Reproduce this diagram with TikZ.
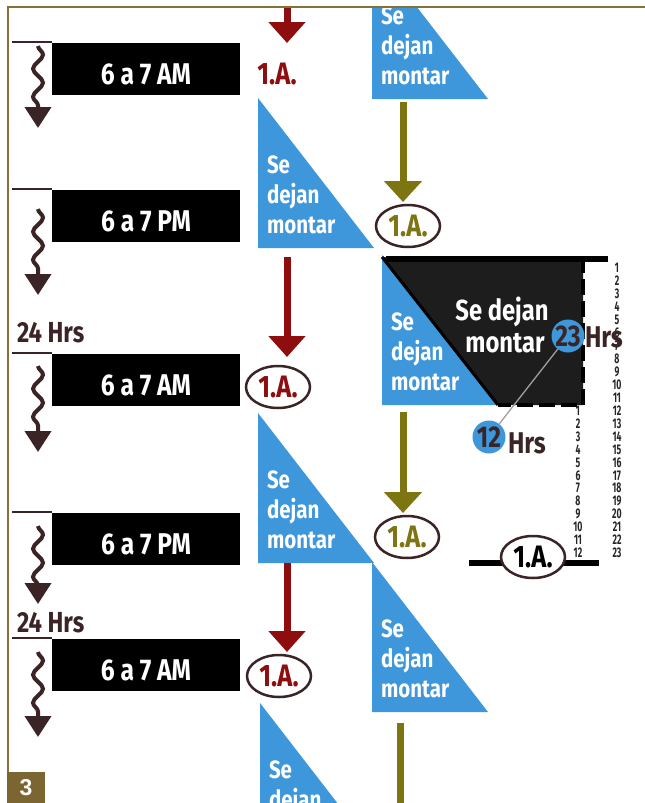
\documentclass[tikz,border=0pt]{standalone}
\usepackage{fontspec}
\setmainfont{Fira Sans}
\newfontfamily\cf{Fira Sans}[FakeStretch=0.82]
\newfontfamily\nf{Fira Sans}[FakeStretch=0.62]
\newfontfamily\af{Liberation Sans}
\usetikzlibrary{arrows.meta,decorations.pathmorphing,shapes.geometric}
\definecolor{tblue}{HTML}{3D97DA}
\definecolor{dred}{HTML}{8E0D0F}
\definecolor{oliv}{HTML}{7D7412}
\definecolor{dbrown}{HTML}{3B2426}
\definecolor{framec}{HTML}{85703A}
\definecolor{boxc}{HTML}{7B6531}
\definecolor{blackreg}{HTML}{1D1D1D}
\tikzset{
  every node/.style={inner sep=0pt, outer sep=0pt},
  timebox/.style={fill=black, minimum width=188pt, minimum height=52pt, text=white,
    font=\cf\bfseries\fontsize{30}{30}\selectfont, text height=31pt, text depth=0pt},
  tickline/.style={draw=dbrown, line width=1.8pt},
  wavy/.style={draw=dbrown, line width=4pt, decorate,
    decoration={snake, amplitude=5pt, segment length=28pt, post length=18pt},
    -{Triangle[width=26pt,length=21pt]}},
  hrs/.style={text=dbrown, font=\cf\bfseries\fontsize{29}{29}\selectfont, anchor=base west},
  redarr/.style={draw=dred, line width=7pt, -{Triangle[width=36pt,length=21pt]}},
  olarr/.style={draw=oliv, line width=7pt, -{Triangle[width=37pt,length=21pt]}},
  olline/.style={draw=oliv, line width=7pt},
  tritxt/.style={text=white, font=\cf\bfseries\fontsize{25}{25}\selectfont, anchor=base west},
  bigtxt/.style={text=white, font=\cf\bfseries\fontsize{29}{29}\selectfont, anchor=base},
  iaell/.style={ellipse, draw=dbrown, line width=2.5pt, fill=white, minimum width=64pt,
    minimum height=42pt, font=\cf\bfseries\fontsize{31}{31}\selectfont, text height=21pt, text depth=0pt},
  iaplain/.style={font=\cf\bfseries\fontsize{31}{31}\selectfont, text height=21pt, text depth=0pt},
  hcirc/.style={circle, fill=tblue, minimum size=33pt, text=dbrown,
    font=\cf\bfseries\fontsize{30}{30}\selectfont, text height=20pt, text depth=0pt},
  hrsb/.style={text=dbrown, font=\cf\bfseries\fontsize{30}{30}\selectfont, anchor=base west},
  numtxt/.style={text=black!85, font=\nf\bfseries\fontsize{14}{14}\selectfont, text height=9.6pt, text depth=0pt},
  dashborder/.style={draw=black, line width=4.5pt, dash pattern=on 16pt off 6pt},
}
\newcommand\bluetri[3]{%
  \fill[tblue] (#2,#3) coordinate (#1) -- (#2,#3-150) -- (#2+116,#3) -- cycle;
  \node[tritxt] (#1a) at (#2+9,#3-75) {Se};
  \node[tritxt] (#1b) at (#2+9,#3-45) {dejan};
  \node[tritxt] (#1c) at (#2+9,#3-15) {montar};
}
\begin{document}
\begin{tikzpicture}[x=1pt,y=-1pt]
\useasboundingbox (0,0) rectangle (645,803);
\fill[white] (0,0) rectangle (645,803);
\begin{scope}
\clip (9,8) rectangle (645,803);
% ---------- left column ----------
\foreach \n/\t/\c/\ws/\we/\lab in {1/42/69/46/128/6 a 7 AM, 2/189/216/209/295/6 a 7 PM, 3/353/380/366/452/6 a 7 AM, 4/512/539/526/604/6 a 7 PM, 5/638/665/652/737/6 a 7 AM}{
  \coordinate (tl\n) at (12,\t);
  \coordinate (tr\n) at (52,\t);
  \draw[tickline] (tl\n) -- (tr\n);
  \node[timebox] (box\n) at (146,\c) {\lab};
  \coordinate (ws\n) at (38,\ws);
  \coordinate (we\n) at (38,\we);
  \draw[wavy] (ws\n) -- (we\n);
}
\node[hrs] (h24a) at (17,342) {24 Hrs};
\node[hrs] (h24b) at (17,632) {24 Hrs};
% ---------- blue triangles ----------
\bluetri{ta}{372}{99}
\bluetri{t1}{258}{248}
\bluetri{tb}{382}{405}
\bluetri{t2}{258}{563}
\bluetri{tc}{372}{712}
\bluetri{t3}{260}{853}
% ---------- black region ----------
\coordinate (k1) at (382,257);
\coordinate (k2) at (583,257);
\coordinate (k3) at (583,405);
\coordinate (k4) at (498,405);
\fill[blackreg] (k1) -- (k2) -- (k3) -- (k4) -- cycle;
\draw[dashborder] (k2) -- (k3) -- (k4);
\draw[black, line width=3pt] (k4) -- (k1);
\coordinate (kt1) at (386,259);
\coordinate (kt2) at (608,259);
\draw[line width=6pt] (kt1) -- (kt2);
\node[bigtxt] (sd1) at (502,320) {Se dejan};
\node[bigtxt] (sd2) at (505,352) {montar};
% ---------- number columns ----------
\foreach \k in {1,...,23}{
  \node[numtxt] (rn\k) at (617,{268+(\k-1)*12.95}) {\k};
}
\foreach \k in {1,...,12}{
  \node[numtxt] (ln\k) at (578,{268+(\k+10)*12.95}) {\k};
}
% ---------- hours circles ----------
\node[hcirc] (c23) at (568,336) {23};
\node[hcirc] (c12) at (489,437) {12};
\draw[gray!75, line width=1.3pt] (c23) -- (c12);
\node[hrsb] (hr23) at (585,347) {Hrs};
\node[hrsb] (hr12) at (508,453) {Hrs};
% ---------- 1.A. markers ----------
\node[iaplain, text=dred] (ia0) at (277,74) {1.A.};
\coordinate (gl) at (469,563);
\coordinate (gr) at (599,563);
\draw[line width=6pt] (gl) -- (gr);
\node[iaell, text=dred] (e1) at (278,387) {1.A.};
\node[iaell, text=dred] (e2) at (279,676) {1.A.};
\node[iaell, text=oliv] (f1) at (408,226) {1.A.};
\node[iaell, text=oliv] (f2) at (407,537) {1.A.};
\node[iaell, text=black] (g1) at (533,557) {1.A.};
% ---------- arrows ----------
\coordinate (a0s) at (287,0);   \coordinate (a0e) at (287,43);
\coordinate (a1s) at (287,257); \coordinate (a1e) at (287,357);
\coordinate (a2s) at (287,563); \coordinate (a2e) at (287,652);
\draw[redarr] (a0s) -- (a0e);
\draw[redarr] (a1s) -- (a1e);
\draw[redarr] (a2s) -- (a2e);
\coordinate (o1s) at (403,102); \coordinate (o1e) at (403,202);
\coordinate (o2s) at (403,412); \coordinate (o2e) at (403,513);
\coordinate (o3s) at (400,723); \coordinate (o3e) at (400,810);
\draw[olarr] (o1s) -- (o1e);
\draw[olarr] (o2s) -- (o2e);
\draw[olline] (o3s) -- (o3e);
\end{scope}
% ---------- frame ----------
\coordinate (fb) at (8,803);
\coordinate (fc) at (8,7);
\coordinate (fr) at (645,7);
\draw[framec, line width=2.5pt] (fb) -- (fc) -- (fr);
\node[fill=boxc, minimum width=38pt, minimum height=31pt, anchor=north west, text=white,
  font=\af\bfseries\fontsize{23}{23}\selectfont] (num3) at (7,772) {3};
\end{tikzpicture}
\end{document}
